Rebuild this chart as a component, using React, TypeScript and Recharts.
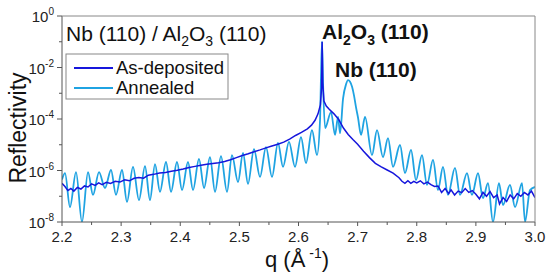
import { Line, LineChart, XAxis, YAxis } from "recharts";

// q in 1/Angstrom, reflectivity stored as log10(R)
const asDepQ = [
  2.2, 2.205, 2.21, 2.215, 2.22, 2.226, 2.232, 2.238, 2.244, 2.25, 2.256, 2.262, 2.268, 2.275,
  2.282, 2.29, 2.298, 2.306, 2.314, 2.322, 2.33, 2.338, 2.346, 2.355, 2.365, 2.375, 2.385,
  2.395, 2.405, 2.415, 2.425, 2.435, 2.445, 2.455, 2.465, 2.475, 2.485, 2.495, 2.505, 2.515,
  2.525, 2.535, 2.545, 2.555, 2.565, 2.575, 2.585, 2.595, 2.605, 2.615, 2.622, 2.628, 2.633,
  2.637, 2.639, 2.64, 2.641, 2.643, 2.647, 2.652, 2.66, 2.668, 2.676, 2.684, 2.692, 2.7, 2.71,
  2.72, 2.73, 2.74, 2.75, 2.76, 2.77, 2.775, 2.78, 2.785, 2.79, 2.795, 2.8, 2.806, 2.812,
  2.818, 2.824, 2.83, 2.836, 2.842, 2.848, 2.854, 2.858, 2.864, 2.87, 2.876, 2.882, 2.888,
  2.894, 2.9, 2.906, 2.912, 2.918, 2.924, 2.93, 2.936, 2.94, 2.946, 2.952, 2.958, 2.964, 2.97,
  2.976, 2.982, 2.988, 2.994, 3.0,
];
const asDepLogR = [
  -6.5, -6.62, -6.78, -6.7, -6.8, -6.66, -6.72, -6.6, -6.64, -6.52, -6.58, -6.48, -6.55, -6.46,
  -6.5, -6.42, -6.45, -6.36, -6.4, -6.3, -6.27, -6.3, -6.18, -6.15, -6.1, -6.08, -6.03, -5.99,
  -5.94, -5.88, -5.84, -5.8, -5.76, -5.73, -5.7, -5.65, -5.58, -5.5, -5.42, -5.35, -5.27, -5.2,
  -5.12, -5.05, -4.98, -4.9, -4.78, -4.64, -4.52, -4.38, -4.24, -4.05, -3.8, -3.45, -2.8, -1.0,
  -2.6, -3.3, -3.5, -3.62, -3.8, -4.02, -4.35, -4.6, -4.8, -4.98, -5.25, -5.5, -5.72, -5.86,
  -5.98, -6.1, -6.28, -6.42, -6.5, -6.4, -6.5, -6.42, -6.48, -6.4, -6.52, -6.45, -6.55, -6.62,
  -6.6, -6.85, -6.7, -6.9, -6.75, -6.95, -6.8, -6.86, -6.7, -6.85, -6.78, -6.92, -7.1, -6.85,
  -7.0, -6.82, -7.05, -6.95, -7.3, -7.05, -7.2, -6.95, -7.1, -6.9, -7.0, -6.85, -6.95, -6.8,
  -7.05,
];

const annealedQ = [
  2.2, 2.2051, 2.2135, 2.2237, 2.2338, 2.244, 2.2524, 2.2626, 2.2727, 2.2829, 2.2913, 2.3015,
  2.3099, 2.3201, 2.3302, 2.3404, 2.3488, 2.3573, 2.3657, 2.3759, 2.3844, 2.3945, 2.403, 2.4131,
  2.4216, 2.4317, 2.4402, 2.4503, 2.4588, 2.4689, 2.4791, 2.4875, 2.4977, 2.5061, 2.5146,
  2.5247, 2.5349, 2.545, 2.5552, 2.5653, 2.5738, 2.5839, 2.5941, 2.6042, 2.6127, 2.6228,
  2.6313, 2.6364, 2.6381, 2.6398, 2.6415, 2.645, 2.655, 2.6618, 2.6669, 2.6703, 2.6754, 2.6804,
  2.6838, 2.6872, 2.6906, 2.694, 2.6973, 2.7007, 2.7058, 2.7125, 2.7243, 2.7328, 2.7429,
  2.7514, 2.7598, 2.7717, 2.7801, 2.7903, 2.7987, 2.8089, 2.8173, 2.8275, 2.8359, 2.8444,
  2.8528, 2.8647, 2.8731, 2.885, 2.8934, 2.9036, 2.912, 2.9205, 2.9289, 2.9391, 2.9459, 2.9577,
  2.9662, 2.978, 2.9831, 2.9915, 3.0,
];
const annealedLogR = [
  -6.35, -6.1, -7.42, -6.06, -8.0, -6.06, -6.95, -6.06, -6.68, -5.98, -6.95, -5.98, -7.22,
  -5.86, -7.15, -5.83, -7.15, -5.75, -6.83, -5.67, -6.83, -5.67, -6.76, -5.67, -6.76, -5.55,
  -6.68, -5.48, -6.83, -5.44, -6.83, -5.4, -6.45, -5.32, -6.52, -5.17, -6.25, -5.09, -6.25,
  -4.93, -5.86, -4.89, -5.86, -4.7, -5.71, -4.43, -5.4, -4.05, -2.3, -1.0, -2.6, -4.35, -3.73,
  -4.62, -3.92, -4.55, -3.2, -2.65, -2.49, -2.55, -2.75, -3.1, -3.55, -3.95, -4.62, -3.92,
  -5.4, -4.43, -5.48, -4.74, -5.86, -5.01, -6.1, -5.2, -6.37, -5.4, -6.56, -5.59, -6.76, -5.86,
  -6.95, -5.9, -6.95, -6.1, -6.95, -6.1, -7.07, -6.49, -8.0, -6.49, -7.34, -6.56, -7.42, -6.49,
  -8.0, -6.76, -6.64,
];

const xTicks = [
  2.2, 2.25, 2.3, 2.35, 2.4, 2.45, 2.5, 2.55, 2.6, 2.65, 2.7, 2.75, 2.8, 2.85, 2.9, 2.95, 3.0,
];
const yExponents = [0, -1, -2, -3, -4, -5, -6, -7, -8];

const asDepData = asDepQ.map((q, i) => ({ q, r: 10 ** asDepLogR[i] }));
const annealedData = annealedQ.map((q, i) => ({ q, r: 10 ** annealedLogR[i] }));
const yTicks = yExponents.map((e) => 10 ** e);

const FONT = "'Liberation Sans', Arial, sans-serif";
const DARK = "#1616dc";
const LIGHT = "#1fa3e2";
const AXIS = "#555";

function XTick(props: any) {
  const { x, y, payload } = props;
  const v = payload.value as number;
  const major = Math.abs(v * 10 - Math.round(v * 10)) < 1e-6;
  return (
    <g>
      <line x1={x} x2={x} y1={y} y2={y + (major ? 4 : 3)} stroke={AXIS} />
      {major && (
        <text x={x} y={y + 20} textAnchor="middle" fontSize={15} fontFamily={FONT} fill="#222">
          {v.toFixed(1)}
        </text>
      )}
    </g>
  );
}

function YTick(props: any) {
  const { x, y, payload } = props;
  const e = Math.round(Math.log10(payload.value));
  const major = e % 2 === 0;
  return (
    <g>
      <line x1={x - (major ? 5 : 3)} x2={x} y1={y} y2={y} stroke={AXIS} />
      {major && (
        <text x={x - 8} y={y + 6} textAnchor="end" fontSize={15} fontFamily={FONT} fill="#222">
          10
          <tspan dy={-7} fontSize={10}>
            {e === 0 ? "0" : `-${-e}`}
          </tspan>
        </text>
      )}
    </g>
  );
}

export default function App() {
  return (
    <div style={{ position: "absolute", left: 0, top: 0, width: 557, height: 278, background: "#fff" }}>
      <LineChart width={557} height={278} margin={{ top: 16, right: 22, bottom: 0, left: 0 }}>
        <XAxis
          dataKey="q"
          type="number"
          domain={[2.2, 3.0]}
          ticks={xTicks}
          allowDataOverflow
          height={56}
          tickSize={0}
          tickMargin={0}
          tickLine={false}
          tick={<XTick />}
          interval={0}
          stroke={AXIS}
        />
        <YAxis
          dataKey="r"
          type="number"
          scale="log"
          domain={[1e-8, 1]}
          ticks={yTicks}
          allowDataOverflow
          width={62}
          tickSize={0}
          tickMargin={0}
          tickLine={false}
          tick={<YTick />}
          interval={0}
          stroke={AXIS}
        />
        <Line
          data={annealedData}
          dataKey="r"
          type="monotone"
          stroke={LIGHT}
          strokeWidth={1.8}
          dot={false}
          isAnimationActive={false}
        />
        <Line
          data={asDepData}
          dataKey="r"
          type="linear"
          stroke={DARK}
          strokeWidth={1.5}
          dot={false}
          isAnimationActive={false}
        />
      </LineChart>
      <svg
        width={557}
        height={278}
        style={{ position: "absolute", left: 0, top: 0, pointerEvents: "none" }}
        fontFamily={FONT}
      >
        <line x1={62} x2={535} y1={16} y2={16} stroke="#888" />
        <line x1={535} x2={535} y1={16} y2={222} stroke="#888" />
        <text x={66} y={41} fontSize={21} fill="#111">
          Nb (110) / Al
          <tspan dy={5} fontSize={14}>2</tspan>
          <tspan dy={-5}>O</tspan>
          <tspan dy={5} fontSize={14}>3</tspan>
          <tspan dy={-5}> (110)</tspan>
        </text>
        <text x={322} y={39} fontSize={21} fontWeight="bold" fill="#111">
          Al
          <tspan dy={6} fontSize={14}>2</tspan>
          <tspan dy={-6}>O</tspan>
          <tspan dy={6} fontSize={14}>3</tspan>
          <tspan dy={-6}> (110)</tspan>
        </text>
        <text x={335} y={77} fontSize={21} fontWeight="bold" fill="#111">
          Nb (110)
        </text>
        <rect x={66} y={54} width={162} height={45} fill="#fff" stroke="#888" />
        <line x1={74} x2={113} y1={68} y2={68} stroke={DARK} strokeWidth={2} />
        <text x={116} y={74} fontSize={18.5} fill="#111">
          As-deposited
        </text>
        <line x1={74} x2={113} y1={88} y2={88} stroke={LIGHT} strokeWidth={2} />
        <text x={116} y={94} fontSize={18.5} fill="#111">
          Annealed
        </text>
        <text x={26} y={128} fontSize={23} fill="#111" textAnchor="middle" transform="rotate(-90 26 128)">
          Reflectivity
        </text>
        <text x={297} y={267} fontSize={22} fill="#111" textAnchor="middle">
          q (Å
          <tspan dy={-9} fontSize={14}> -1</tspan>
          <tspan dy={9}>)</tspan>
        </text>
      </svg>
    </div>
  );
}
